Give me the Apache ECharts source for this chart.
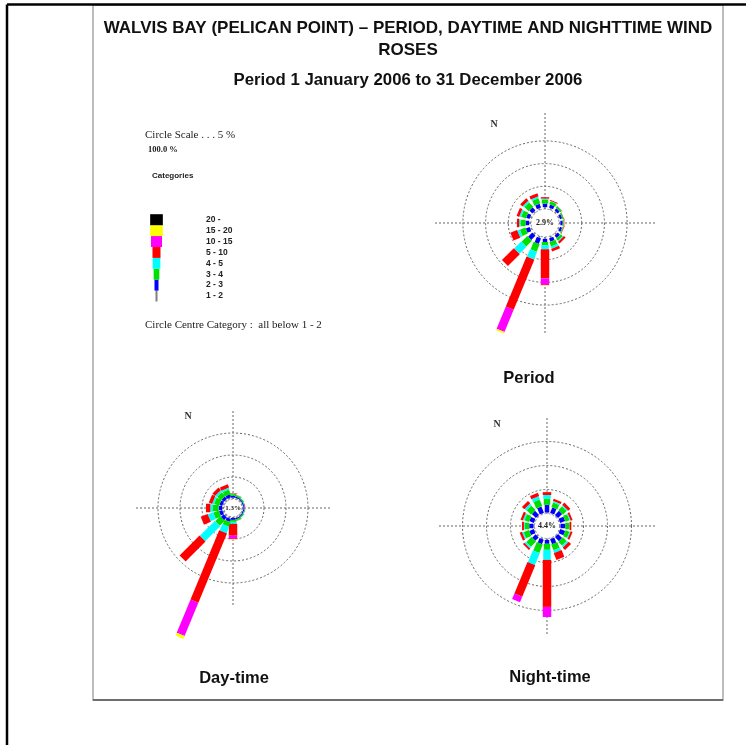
<!DOCTYPE html>
<html><head><meta charset="utf-8">
<script src="https://cdn.jsdelivr.net/npm/echarts@6/dist/echarts.min.js"></script>
<style>html,body{margin:0;padding:0;background:#fff}#c{width:746px;height:745px}</style>
</head><body><div id="c"></div>
<script>
// ---------------- DATA ----------------
var directions = ['N','NNE','NE','ENE','E','ESE','SE','SSE','S','SSW','SW','WSW','W','WNW','NW','NNW'];
var directionAngles = [0,22.5,45,67.5,90,112.5,135,157.5,180,202.5,225,247.5,270,292.5,315,337.5];
var speedCategories = ['1 - 2','2 - 3','3 - 4','4 - 5','5 - 10','10 - 15','15 - 20','20 -'];
var categoryColors = ['#7f7f7f','#0000ff','#00e000','#00ffff','#ff0000','#ff00ff','#ffff00','#000000'];
var circleScale = [5,10,15];
var calmLabels = ['2.9%','1.3%','4.4%'];
var roseNames = ['Period','Day-time','Night-time'];
// percent frequency per direction (rows) and speed category (columns 1-2 ... 20-)
var periodRose = [
  [0.4,0.8,0.9,0.2,0.3,0,0,0],
  [0.4,0.7,0.7,0.1,0.2,0,0,0],
  [0.4,0.6,0.4,0.05,0.05,0,0,0],
  [0.3,0.5,0.3,0,0.05,0,0,0],
  [0.3,0.5,0.2,0.05,0.1,0.05,0.05,0],
  [0.3,0.5,0.2,0.05,0.1,0,0,0],
  [0.4,0.7,0.6,0.2,0.5,0,0,0],
  [0.4,0.8,1.0,0.5,0.6,0,0,0],
  [0.4,0.7,0.7,0.9,6.4,1.5,0.2,0],
  [0.4,1.3,1.8,1.8,11.9,5.3,0.4,0],
  [0.4,1.3,1.8,2.2,3.7,0,0,0],
  [0.4,0.9,1.3,0.6,1.6,0,0,0],
  [0.4,0.8,1.1,0.3,0.5,0,0,0],
  [0.4,0.8,1.1,0.4,0.6,0,0,0],
  [0.4,0.9,1.3,0.4,0.7,0,0,0],
  [0.4,0.9,1.2,0.4,0.7,0,0,0]
];
var dayRose = [
  [0.3,0.4,0.4,0.1,0.1,0,0,0],
  [0.3,0.3,0.3,0.05,0.05,0,0,0],
  [0.3,0.25,0.2,0.05,0,0,0,0],
  [0.25,0.25,0.15,0.05,0,0,0,0],
  [0.2,0.2,0.1,0.05,0.05,0.1,0,0],
  [0.25,0.25,0.15,0.05,0,0,0,0],
  [0.3,0.25,0.2,0.05,0,0,0,0],
  [0.3,0.3,0.3,0.05,0.05,0,0,0],
  [0.2,0.45,0.45,0.45,2.7,0.8,0.2,0],
  [0.45,0.7,1.1,1.6,17,8.2,0.7,0],
  [0.45,0.9,1.6,4.8,6.4,0,0,0],
  [0.4,0.8,1.3,1.3,1.7,0,0,0],
  [0.4,0.8,1.3,0.6,1.0,0,0,0],
  [0.4,0.7,1.2,0.4,0.8,0,0,0],
  [0.4,0.7,1.2,0.5,0.8,0,0,0],
  [0.4,0.7,1.1,0.4,0.8,0,0,0]
];
var nightRose = [
  [0.2,1.6,1.25,0.8,0.6,0,0,0],
  [0.2,1.2,1.0,0.3,0.5,0,0,0],
  [0.2,1.2,1.1,0.3,0.6,0,0,0],
  [0.2,1.1,0.9,0.2,0.4,0,0,0],
  [0.2,1.0,0.8,0.1,0.3,0.1,0.1,0],
  [0.2,1.1,0.9,0.2,0.4,0,0,0],
  [0.2,1.2,1.1,0.4,0.7,0,0,0],
  [0.2,1.1,1.3,0.6,1.5,0,0,0],
  [0.3,0.8,1.25,2.1,9.8,2.1,0,0],
  [0.3,1.0,1.9,2.7,7.1,1.25,0,0],
  [0.3,1.0,1.5,0.4,0.4,0,0,0],
  [0.2,1.0,1.2,0.3,0.5,0,0,0],
  [0.2,0.9,0.9,0.2,0.4,0,0,0],
  [0.2,1.0,1.0,0.3,0.5,0,0,0],
  [0.2,1.2,1.3,0.5,0.7,0,0,0],
  [0.2,1.4,1.5,0.7,0.7,0,0,0]
];
var roseData = [periodRose, dayRose, nightRose];

// ---------------- LAYOUT ----------------
var roseLayout = [
  {cx:545, cy:223, r0:14, px:4.54, cross:110, nx:494, ny:124, lx:529, ly:378, fs:8},
  {cx:233, cy:508, r0:9,  px:4.4,  cross:97,  nx:188, ny:416, lx:234, ly:678, fs:7},
  {cx:547, cy:526, r0:12.5, px:4.8, cross:108, nx:497, ny:424, lx:550, ly:677, fs:8}
];
var segWidths = [2,4.5,6.5,7.5,8.5,8.5,8.5,9.5];
var axisMax = 30;
var SANS = '"Liberation Sans", Arial, sans-serif';
var SERIF = '"Liberation Serif", "Times New Roman", serif';

function buildSegments(rose){
  var items = [];
  rose.forEach(function(row, d){
    var acc = 0;
    row.forEach(function(v, c){
      if (v > 0) { items.push([acc, acc + v, directionAngles[d], c]); acc += v; }
    });
  });
  return items;
}
function renderSeg(params, api){
  var a = api.value(2), c = api.value(3);
  var p0 = api.coord([api.value(0), a]);
  var p1 = api.coord([api.value(1), a]);
  var dx = p1[0]-p0[0], dy = p1[1]-p0[1];
  var len = Math.sqrt(dx*dx+dy*dy) || 1;
  var nx = -dy/len, ny = dx/len, hw = segWidths[c]/2;
  return {
    type:'polygon',
    shape:{points:[[p0[0]+nx*hw,p0[1]+ny*hw],[p1[0]+nx*hw,p1[1]+ny*hw],[p1[0]-nx*hw,p1[1]-ny*hw],[p0[0]-nx*hw,p0[1]-ny*hw]]},
    style:{fill:categoryColors[c]}
  };
}

var polar = [], angleAxis = [], radiusAxis = [], series = [];
var dotted = [2,2];
var gridColor = '#666';
var ringColors = ['#8a8a8a'];
for (var k = 5; k <= axisMax; k += 5) ringColors.push(circleScale.indexOf(k) >= 0 ? gridColor : 'rgba(0,0,0,0)');

roseLayout.forEach(function(L, i){
  polar.push({center:[L.cx, L.cy], radius:[L.r0, L.r0 + axisMax*L.px]});
  angleAxis.push({polarIndex: polar.length-1, type:'value', min:0, max:360, startAngle:90, clockwise:true,
    axisLine:{show:false}, axisTick:{show:false}, axisLabel:{show:false}, splitLine:{show:false}});
  radiusAxis.push({polarIndex: polar.length-1, type:'value', min:0, max:axisMax, interval:5,
    axisLine:{show:false}, axisTick:{show:false}, axisLabel:{show:false},
    splitLine:{show:true, lineStyle:{color:ringColors, type:dotted, width:1}}});
  series.push({type:'custom', name:roseNames[i], coordinateSystem:'polar', polarIndex: polar.length-1,
    encode:{radius:1, angle:2}, renderItem: renderSeg, data: buildSegments(roseData[i]), silent:true, z:3});
});
roseLayout.forEach(function(L){
  polar.push({center:[L.cx, L.cy], radius:[L.r0, L.cross]});
  angleAxis.push({polarIndex: polar.length-1, type:'value', min:0, max:360, interval:90, startAngle:90, clockwise:true,
    axisLine:{show:false}, axisTick:{show:false}, axisLabel:{show:false},
    splitLine:{show:true, lineStyle:{color:gridColor, type:dotted, width:1}}});
  radiusAxis.push({polarIndex: polar.length-1, type:'value', min:0, max:1,
    axisLine:{show:false}, axisTick:{show:false}, axisLabel:{show:false}, splitLine:{show:false}});
});

// ---------------- GRAPHICS (frame, titles, legend, labels) ----------------
var g = [];
g.push({type:'rect', shape:{x:93, y:5, width:630, height:695}, style:{fill:'none', stroke:'#a8a8a8', lineWidth:1.5}, z:1});
g.push({type:'line', shape:{x1:93, y1:700, x2:723, y2:700}, style:{stroke:'#555', lineWidth:1.5}, z:2});
g.push({type:'line', shape:{x1:7, y1:4.5, x2:746, y2:4.5}, style:{stroke:'#000', lineWidth:2.5}, z:2});
g.push({type:'line', shape:{x1:7, y1:4.5, x2:7, y2:745}, style:{stroke:'#000', lineWidth:2.5}, z:2});
function txt(t, x, y, font, align, color){
  g.push({type:'text', x:x, y:y, z:10, style:{text:t, font:font, fill:color||'#111', textAlign:align||'left', textVerticalAlign:'middle'}});
}
txt('WALVIS BAY (PELICAN POINT) \u2013 PERIOD, DAYTIME AND NIGHTTIME WIND', 408, 28, 'bold 17px '+SANS, 'center');
txt('ROSES', 408, 50, 'bold 17px '+SANS, 'center');
txt('Period 1 January 2006 to 31 December 2006', 408, 80, 'bold 16.8px '+SANS, 'center');
txt('Circle Scale . . . 5 %', 145, 135, '11px '+SERIF, 'left', '#222');
txt('100.0 %', 148, 150, 'bold 8.5px '+SERIF, 'left', '#222');
txt('Categories', 152, 176, 'bold 8px '+SANS, 'left', '#222');
txt('Circle Centre Category :  all below 1 - 2', 145, 325, '11px '+SERIF, 'left', '#222');
var legendW = [2,4,5.7,7.7,8,11,12.7,12.7];
speedCategories.forEach(function(name, c){
  var top = 290.5 - 10.9*c;
  g.push({type:'rect', shape:{x:156.5 - legendW[c]/2, y:top, width:legendW[c], height:11}, style:{fill:categoryColors[c]}, z:5});
  txt(name, 206, top + 5.5, 'bold 8.5px '+SANS, 'left', '#222');
});
roseLayout.forEach(function(L, i){
  txt('N', L.nx, L.ny, 'bold 10px '+SERIF, 'center', '#333');
  txt(calmLabels[i], L.cx, L.cy, 'bold ' + L.fs + 'px '+SERIF, 'center', '#222');
  txt(roseNames[i], L.lx, L.ly, 'bold 16.5px '+SANS, 'center');
});

var chart = echarts.init(document.getElementById('c'), null, {renderer:'canvas'});
chart.setOption({
  backgroundColor:'#fff',
  animation:false,
  polar: polar, angleAxis: angleAxis, radiusAxis: radiusAxis,
  series: series,
  graphic: g
});
</script>
</body></html>
